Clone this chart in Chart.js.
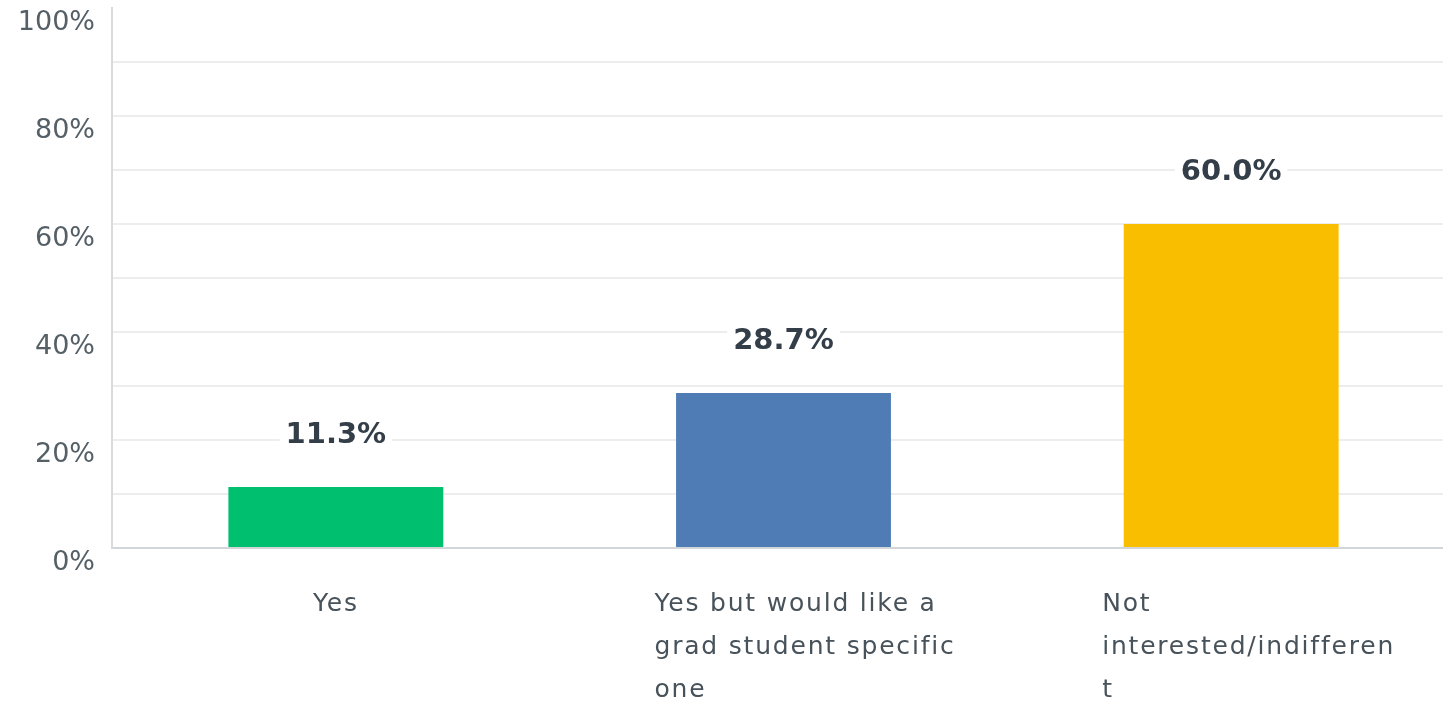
<!DOCTYPE html>
<html>
<head>
<meta charset="utf-8">
<script src="https://cdn.jsdelivr.net/npm/chart.js@4/dist/chart.umd.min.js"></script>
<style>
  html, body { margin: 0; padding: 0; background: #ffffff; overflow: hidden; }
  #wrap { width: 1455px; height: 701px; position: relative; }
</style>
</head>
<body>
<div id="wrap"><canvas id="c"></canvas></div>
<script>
// Answer choices (each wrapped label is a list of lines)
const categories = [
  ['Yes'],
  ['Yes but would like a', 'grad student specific', 'one'],
  ['Not', 'interested/indifferen', 't']
];
// Share of respondents, in percent
const responses = [11.3, 28.7, 60.0];
const barColors = ['#00bf6f', '#507cb6', '#f9be00'];
// Y axis: grid every 10%, labels every 20%
const yTickLabels = ['0%', '20%', '40%', '60%', '80%', '100%'];

const FONT = "'DejaVu Sans', 'Noto Sans', sans-serif";

const valueLabels = {
  id: 'valueLabels',
  afterDatasetsDraw(chart) {
    const ctx = chart.ctx;
    const meta = chart.getDatasetMeta(0);
    ctx.save();
    ctx.font = "bold 29px " + FONT;
    ctx.textAlign = 'center';
    ctx.textBaseline = 'middle';
    meta.data.forEach((bar, i) => {
      const txt = responses[i].toFixed(1) + '%';
      const y = bar.y - 52;
      const w = ctx.measureText(txt).width;
      ctx.fillStyle = '#ffffff';
      ctx.fillRect(bar.x - w / 2 - 6, y - 16, w + 12, 32);
      ctx.fillStyle = '#333e48';
      ctx.fillText(txt, bar.x, y);
    });
    ctx.restore();
  }
};

const categoryLabels = {
  id: 'categoryLabels',
  afterDraw(chart) {
    const ctx = chart.ctx;
    const xs = chart.scales.x;
    ctx.save();
    ctx.font = "25px " + FONT;
    if ('letterSpacing' in ctx) ctx.letterSpacing = '1.8px';
    ctx.fillStyle = '#47525a';
    ctx.textBaseline = 'middle';
    categories.forEach((lines, i) => {
      const cx = xs.getPixelForValue(i);
      lines.forEach((line, j) => {
        const y = chart.chartArea.bottom + 56 + j * 43;
        if (lines.length > 1) {
          ctx.textAlign = 'left';
          ctx.fillText(line, cx - 129, y);
        } else {
          ctx.textAlign = 'center';
          ctx.fillText(line, cx, y);
        }
      });
    });
    ctx.restore();
  }
};

new Chart(document.getElementById('c'), {
  type: 'bar',
  data: {
    labels: categories.map(l => l.join(' ')),
    datasets: [{
      data: responses,
      backgroundColor: barColors,
      borderWidth: 0,
      barPercentage: 0.48,
      categoryPercentage: 1.0
    }]
  },
  options: {
    responsive: true,
    maintainAspectRatio: false,
    animation: false,
    layout: { padding: { top: 8, right: 0, left: 0, bottom: 0 } },
    plugins: { legend: { display: false }, tooltip: { enabled: false } },
    scales: {
      x: {
        grid: { display: false, drawTicks: false },
        border: { display: true, color: '#d3d6d8', width: 2 },
        ticks: { display: false },
        afterFit(s) { s.height = 153; s.paddingLeft = 0; s.paddingRight = 0; }
      },
      y: {
        min: 0,
        max: 100,
        grid: {
          drawTicks: false,
          lineWidth: 2,
          color: ctx => (ctx.tick && ctx.tick.value === 100) ? 'rgba(0,0,0,0)' : '#ededed'
        },
        border: { display: true, color: '#dadada', width: 2 },
        ticks: {
          stepSize: 10,
          padding: 17,
          labelOffset: 15,
          color: '#545f66',
          font: { family: FONT, size: 27 },
          callback: v => (v % 20 === 0 ? yTickLabels[v / 20] : '')
        },
        afterFit(s) { s.width = 112; s.paddingTop = 0; s.paddingBottom = 0; }
      }
    }
  },
  plugins: [valueLabels, categoryLabels]
});
</script>
</body>
</html>
